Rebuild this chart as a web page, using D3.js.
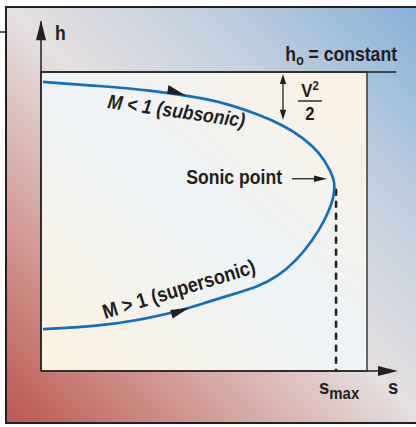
<!DOCTYPE html>
<html><head><meta charset="utf-8">
<script src="https://cdn.jsdelivr.net/npm/d3@7"></script>
<style>
html,body{margin:0;padding:0;background:#fff;}
svg{display:block;}
text{font-family:"Liberation Sans",Arial,sans-serif;font-weight:bold;fill:#231f20;}
</style></head>
<body>
<script>
// ---- data (s = entropy, h = enthalpy, arbitrary units 0..100) ----
const curveS = [0.6, 18.1, 33.4, 51.2, 58.0, 66.3, 74.2, 80.4, 85.6, 88.7, 90.3, 89.7, 87.1, 83.4, 78.5, 72.4, 66.3, 58.0, 51.2, 40.5, 28.2, 18.1, 0.6];
const curveH = [96.7, 95.3, 94.0, 91.0, 89.0, 86.0, 82.3, 78.0, 72.9, 67.2, 62.9, 57.2, 50.5, 43.8, 37.1, 31.4, 28.1, 25.4, 23.1, 19.4, 16.7, 15.1, 14.0];
const sMax = 90.5;
const sonicH = 64.3;
const h0 = 100;
const vHalfH = 84;       // bottom of the V^2/2 arrow
const arrowS = [44.5, 45.5]; // s where flow-direction arrows sit (upper, lower)
const labels = {
  h: "h", s: "s", sMax: ["s", "max"], h0: ["h", "o", " = constant"],
  sonic: "Sonic point", sub: "M < 1 (subsonic)", sup: "M > 1 (supersonic)"
};

const W = 416, H = 427;
const x = d3.scaleLinear().domain([0, 100]).range([41, 367]);
const y = d3.scaleLinear().domain([0, 100]).range([371, 72]);
const ink = "#231f20";

const svg = d3.select("body").append("svg").attr("width", W).attr("height", H);
const defs = svg.append("defs");
const bg = defs.append("linearGradient").attr("id", "bg")
  .attr("x1", 0).attr("y1", 1).attr("x2", 1).attr("y2", 0);
[[0, "#bc5650"], [0.25, "#d39c96"], [0.5, "#e5e0e1"], [0.72, "#c3d0df"], [1, "#86b0d7"]]
  .forEach(([o, c]) => bg.append("stop").attr("offset", o).attr("stop-color", c));
const inner = defs.append("linearGradient").attr("id", "inner")
  .attr("x1", 0).attr("y1", 1).attr("x2", 1).attr("y2", 0);
[[0, "#fdf3df"], [0.5, "#edf3f7"], [1, "#fcf1e0"]]
  .forEach(([o, c]) => inner.append("stop").attr("offset", o).attr("stop-color", c));

svg.append("rect").attr("x", 0).attr("y", 0).attr("width", W).attr("height", H).attr("fill", "#fff");
svg.append("rect").attr("x", 6).attr("y", 7).attr("width", 420).attr("height", 416)
  .attr("fill", "url(#bg)").attr("stroke", ink).attr("stroke-width", 2);
svg.append("line").attr("x1", 0).attr("x2", 6).attr("y1", 32).attr("y2", 32)
  .attr("stroke", ink).attr("stroke-width", 1.5);

// inner plot area
svg.append("rect").attr("x", x(0)).attr("y", y(100)).attr("width", x(100) - x(0)).attr("height", y(0) - y(100))
  .attr("fill", "url(#inner)").attr("stroke", "#3a3a3a").attr("stroke-width", 1.5);

// h0 line
svg.append("line").attr("x1", x(0)).attr("x2", x(109)).attr("y1", y(h0)).attr("y2", y(h0))
  .attr("stroke", ink).attr("stroke-width", 1.5);

function arrowHead(tipX, tipY, dx, dy, len, half) {
  const bx = tipX - dx * len, by = tipY - dy * len;
  const nx = -dy, ny = dx;
  return `M${tipX},${tipY}L${bx + nx * half},${by + ny * half}L${bx - nx * half},${by - ny * half}Z`;
}
// axes with arrows
svg.append("line").attr("x1", x(0)).attr("x2", x(0)).attr("y1", y(0)).attr("y2", y(117))
  .attr("stroke", ink).attr("stroke-width", 1.5);
svg.append("path").attr("d", arrowHead(x(0), y(117.3), 0, -1, 20, 5)).attr("fill", ink);
svg.append("line").attr("x1", x(0)).attr("x2", x(104)).attr("y1", y(0)).attr("y2", y(0))
  .attr("stroke", ink).attr("stroke-width", 1.5);
svg.append("path").attr("d", arrowHead(x(109.5), y(0), 1, 0, 20, 5)).attr("fill", ink);

// dashed s_max
svg.append("line").attr("x1", x(sMax)).attr("x2", x(sMax)).attr("y1", y(sonicH) + 10).attr("y2", y(0))
  .attr("stroke", ink).attr("stroke-width", 2.5).attr("stroke-dasharray", "7,5");

// curve
const pts = curveS.map((s, i) => [x(s), y(curveH[i])]);
const path = svg.append("path").attr("d", d3.line().curve(d3.curveBasis)(pts))
  .attr("fill", "none").attr("stroke", "#1170b9").attr("stroke-width", 2.7);
const node = path.node(), total = node.getTotalLength();
function lenAtX(px, upper) {
  let lo = upper ? 0 : total / 2, hi = upper ? total / 2 : total;
  for (let k = 0; k < 40; k++) {
    const mid = (lo + hi) / 2, p = node.getPointAtLength(mid);
    if (upper ? p.x < px : p.x > px) lo = mid; else hi = mid;
  }
  return (lo + hi) / 2;
}
function flowArrow(sv, upper, up, down) {
  const L = lenAtX(x(sv), upper);
  const tip = node.getPointAtLength(L);
  const back = node.getPointAtLength(upper ? L - 19 : L + 19);
  let dx = tip.x - back.x, dy = tip.y - back.y; const m = Math.hypot(dx, dy); dx /= m; dy /= m;
  let nx = dy, ny = -dx; if (ny > 0) { nx = -nx; ny = -ny; }
  const d = `M${tip.x},${tip.y}L${back.x + nx * up},${back.y + ny * up}L${back.x - nx * down},${back.y - ny * down}Z`;
  svg.append("path").attr("d", d).attr("fill", ink);
}
flowArrow(arrowS[0], true, 8, 1);
flowArrow(arrowS[1], false, 3, 6);

// sonic point arrow
svg.append("line").attr("x1", 292).attr("x2", 318).attr("y1", y(sonicH)).attr("y2", y(sonicH))
  .attr("stroke", ink).attr("stroke-width", 1.3);
svg.append("path").attr("d", arrowHead(x(sMax) - 9, y(sonicH), 1, 0, 13, 3.2)).attr("fill", ink);

// V^2/2 double arrow
const vx = 283;
svg.append("line").attr("x1", vx).attr("x2", vx).attr("y1", y(h0) + 6).attr("y2", y(vHalfH) - 6)
  .attr("stroke", ink).attr("stroke-width", 1.3);
svg.append("path").attr("d", arrowHead(vx, y(h0) + 2, 0, -1, 10, 3.2)).attr("fill", ink);
svg.append("path").attr("d", arrowHead(vx, y(vHalfH), 0, 1, 10, 3.2)).attr("fill", ink);

// texts (condensed by horizontal scaling)
const SX = 0.88;
function label(px, py, size, anchor, rot) {
  const g = svg.append("g").attr("transform", `translate(${px},${py}) rotate(${rot || 0}) scale(${SX},1)`);
  return g.append("text").attr("font-size", size).attr("text-anchor", anchor || "start");
}
label(55, 40, 20).text(labels.h);
const t0 = label(397, 61, 20, "end");
t0.append("tspan").text(labels.h0[0]);
t0.append("tspan").attr("font-size", 14).attr("dy", 4).text(labels.h0[1]);
t0.append("tspan").attr("dy", -4).text(labels.h0[2]);

const fr = label(310, 97, 19, "middle");
fr.append("tspan").text("V");
fr.append("tspan").attr("font-size", 13).attr("dy", -7).text("2");
svg.append("line").attr("x1", 298).attr("x2", 322).attr("y1", 101).attr("y2", 101).attr("stroke", ink).attr("stroke-width", 1.4);
label(310, 120, 19, "middle").text("2");

label(282, 184, 20, "end").text(labels.sonic);

label(107, 108, 20, "start", 8).attr("font-style", "italic").text(labels.sub);
label(105, 319, 20.5, "start", -17).text(labels.sup);

const sm = label(319, 394, 21);
sm.append("tspan").text(labels.sMax[0]);
sm.append("tspan").attr("font-size", 17).attr("dy", 5).text(labels.sMax[1]);
label(388, 394, 21).text(labels.s);
</script>
</body></html>
